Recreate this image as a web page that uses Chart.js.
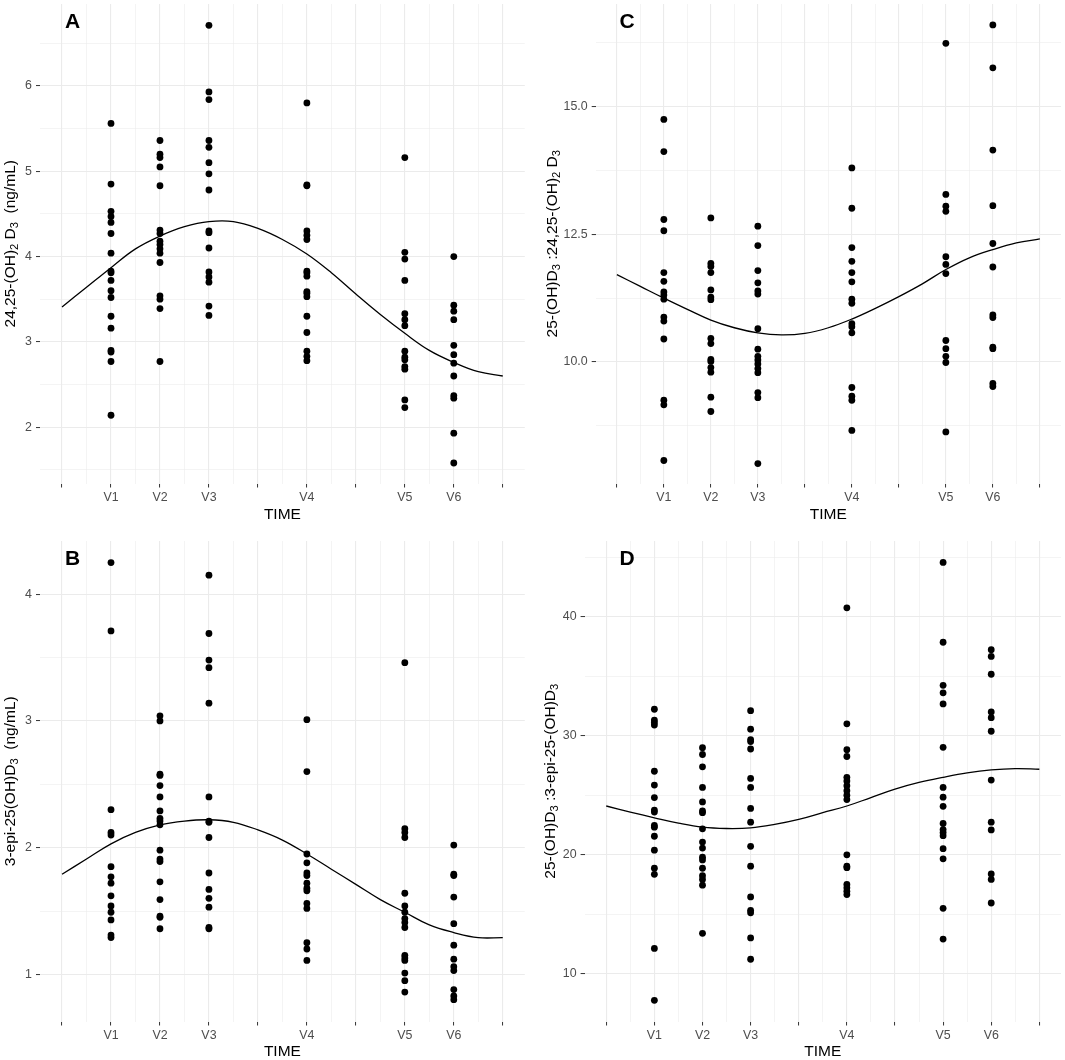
<!DOCTYPE html>
<html>
<head>
<meta charset="utf-8">
<title>Vitamin D metabolites by visit</title>
<script src="https://cdn.jsdelivr.net/npm/chart.js@4.4.1/dist/chart.umd.min.js"></script>
<style>
  html, body { margin: 0; padding: 0; background: #fff; }
  #figure { position: relative; width: 1065px; height: 1060px; }
  .panel { position: absolute; }
</style>
</head>
<body>
<div id="figure">
  <div class="panel" style="left:0;top:0;width:532px;height:530px"><canvas id="chartA"></canvas></div>
  <div class="panel" style="left:533px;top:0;width:532px;height:530px"><canvas id="chartC"></canvas></div>
  <div class="panel" style="left:0;top:537px;width:532px;height:523px"><canvas id="chartB"></canvas></div>
  <div class="panel" style="left:533px;top:537px;width:532px;height:523px"><canvas id="chartD"></canvas></div>
</div>
<script>
// time axis: visits sit on a continuous axis, some breaks have no label
const visitPos = [1, 2, 3, 5, 7, 8];
const timeTicks = [0, 1, 2, 3, 4, 5, 6, 7, 8, 9];
const timeLabels = ['', 'V1', 'V2', 'V3', '', 'V4', '', 'V5', 'V6', ''];
const timeMinor = [0.5, 1.5, 2.5, 3.5, 4.5, 5.5, 6.5, 7.5, 8.5];
const curveX = [0, 0.5, 1, 1.5, 2, 2.5, 3, 3.5, 4, 4.5, 5, 5.5, 6, 6.5, 7, 7.5, 8, 8.5, 9];

// A: 24,25-(OH)2D3 (ng/mL), one list per visit V1..V6
const d2425Values = [
  [5.56, 4.85, 4.53, 4.47, 4.40, 4.27, 4.04, 3.83, 3.81, 3.72, 3.60, 3.52, 3.30, 3.16, 2.90, 2.88, 2.77, 2.14],
  [5.36, 5.20, 5.16, 5.05, 4.83, 4.31, 4.27, 4.18, 4.14, 4.09, 4.04, 3.93, 3.54, 3.50, 3.39, 2.77],
  [6.71, 5.93, 5.84, 5.36, 5.28, 5.10, 4.97, 4.78, 4.30, 4.28, 4.10, 3.82, 3.76, 3.70, 3.42, 3.31],
  [5.80, 4.84, 4.83, 4.30, 4.25, 4.20, 3.83, 3.81, 3.77, 3.59, 3.57, 3.53, 3.30, 3.11, 2.89, 2.83, 2.78],
  [5.16, 4.05, 3.97, 3.72, 3.33, 3.26, 3.19, 2.89, 2.82, 2.79, 2.71, 2.68, 2.32, 2.23],
  [4.00, 3.43, 3.36, 3.26, 2.96, 2.85, 2.75, 2.60, 2.37, 2.34, 1.93, 1.58]
];
const d2425Curve = [3.41, 3.64, 3.87, 4.09, 4.24, 4.35, 4.41, 4.41, 4.33, 4.20, 4.03, 3.81, 3.56, 3.32, 3.10, 2.90, 2.76, 2.65, 2.60];
const d2425Ticks = [2, 3, 4, 5, 6];
const d2425TickLabels = ['2', '3', '4', '5', '6'];
const d2425Minor = [1.5, 2.5, 3.5, 4.5, 5.5, 6.5];

// B: 3-epi-25(OH)D3 (ng/mL)
const epiValues = [
  [4.25, 3.71, 2.30, 2.12, 2.10, 1.85, 1.77, 1.72, 1.62, 1.54, 1.49, 1.43, 1.31, 1.29],
  [3.04, 3.00, 2.58, 2.57, 2.49, 2.40, 2.29, 2.23, 2.21, 2.18, 1.98, 1.91, 1.89, 1.73, 1.59, 1.46, 1.45, 1.36],
  [4.15, 3.69, 3.48, 3.42, 3.14, 2.40, 2.21, 2.20, 2.08, 1.80, 1.67, 1.60, 1.53, 1.37, 1.36],
  [3.01, 2.60, 1.95, 1.88, 1.80, 1.78, 1.72, 1.68, 1.66, 1.56, 1.52, 1.25, 1.20, 1.11],
  [3.46, 2.15, 2.12, 2.08, 1.64, 1.54, 1.49, 1.44, 1.41, 1.37, 1.15, 1.13, 1.11, 1.01, 0.95, 0.86],
  [2.02, 1.79, 1.78, 1.61, 1.40, 1.23, 1.12, 1.06, 1.03, 0.88, 0.83, 0.80]
];
const epiCurve = [1.79, 1.91, 2.03, 2.12, 2.18, 2.21, 2.22, 2.20, 2.14, 2.06, 1.95, 1.83, 1.71, 1.59, 1.49, 1.39, 1.33, 1.29, 1.29];
const epiTicks = [1, 2, 3, 4];
const epiTickLabels = ['1', '2', '3', '4'];
const epiMinor = [1.5, 2.5, 3.5];

// C: 25-(OH)D3 : 24,25-(OH)2D3
const ratio2425Values = [
  [14.75, 14.12, 12.79, 12.57, 11.75, 11.58, 11.37, 11.31, 11.23, 10.88, 10.80, 10.45, 9.25, 9.16, 8.07],
  [12.82, 11.93, 11.87, 11.75, 11.41, 11.27, 11.22, 10.46, 10.36, 10.05, 10.01, 9.89, 9.80, 9.31, 9.03],
  [12.66, 12.28, 11.79, 11.55, 11.39, 11.33, 10.65, 10.25, 10.11, 10.04, 9.96, 9.87, 9.79, 9.40, 9.30, 8.01],
  [13.80, 13.01, 12.24, 11.97, 11.75, 11.57, 11.23, 11.15, 10.75, 10.69, 10.57, 9.50, 9.33, 9.25, 8.66],
  [16.24, 13.28, 13.05, 12.95, 12.06, 11.91, 11.73, 10.42, 10.26, 10.11, 9.99, 8.63],
  [16.60, 15.76, 14.15, 13.06, 12.32, 11.86, 10.92, 10.87, 10.29, 10.26, 9.58, 9.52]
];
const ratio2425Curve = [11.71, 11.48, 11.25, 11.03, 10.82, 10.67, 10.57, 10.53, 10.56, 10.67, 10.84, 11.05, 11.28, 11.53, 11.81, 12.04, 12.20, 12.33, 12.41];
const ratio2425Ticks = [10, 12.5, 15];
const ratio2425TickLabels = ['10.0', '12.5', '15.0'];
const ratio2425Minor = [8.75, 11.25, 13.75, 16.25];

// D: 25-(OH)D3 : 3-epi-25-(OH)D3
const ratioEpiValues = [
  [32.22, 31.31, 31.11, 30.89, 27.01, 25.85, 24.80, 23.75, 23.58, 22.45, 22.31, 21.55, 20.38, 18.86, 18.35, 12.12, 7.76],
  [28.99, 28.42, 27.38, 25.65, 24.43, 23.67, 23.53, 22.17, 21.06, 20.55, 19.79, 19.56, 18.86, 18.23, 17.92, 17.44, 13.39],
  [32.10, 30.55, 29.67, 29.50, 28.88, 26.41, 25.65, 23.89, 22.73, 20.70, 19.03, 16.45, 15.32, 15.12, 13.00, 11.21],
  [40.74, 31.00, 28.82, 28.25, 26.50, 26.19, 25.79, 25.37, 25.00, 24.63, 19.99, 19.03, 18.91, 17.50, 17.21, 16.93, 16.65],
  [44.56, 37.85, 34.23, 33.60, 32.67, 29.02, 25.65, 24.83, 24.06, 22.62, 22.11, 21.86, 21.60, 20.50, 19.65, 15.49, 12.91],
  [37.23, 36.66, 35.16, 31.99, 31.51, 30.37, 26.27, 22.73, 22.08, 18.38, 17.92, 15.94]
];
const ratioEpiCurve = [24.09, 23.58, 23.10, 22.65, 22.31, 22.20, 22.25, 22.54, 22.96, 23.53, 24.09, 24.80, 25.51, 26.07, 26.50, 26.87, 27.12, 27.23, 27.18];
const ratioEpiTicks = [10, 20, 30, 40];
const ratioEpiTickLabels = ['10', '20', '30', '40'];
const ratioEpiMinor = [15, 25, 35, 45];

const FONT = "'Liberation Sans', Arial, Helvetica, sans-serif";
const GRID = '#EBEBEB';
const TICK = '#333333';
const TEXT = '#4D4D4D';
const NONE = 'rgba(0,0,0,0)';

function fixedTicks(major, minor) {
    return scale => {
        scale.ticks = major.concat(minor).sort((a, b) => a - b).map(v => ({ value: v }));
    };
}

// rotated y title with real subscripts, plus the bold panel letter
function panelTextPlugin(p) {
    return {
        id: 'panelText',
        afterDraw(chart) {
            const { ctx, chartArea } = chart;
            const size = 15.5;
            const main = size + 'px ' + FONT;
            const sub = (size * 0.72) + 'px ' + FONT;

            ctx.save();
            ctx.fillStyle = '#000';
            ctx.textAlign = 'left';
            ctx.textBaseline = 'alphabetic';
            let total = 0;
            p.title.forEach(part => {
                ctx.font = part.sub ? sub : main;
                total += ctx.measureText(part.t).width;
            });
            ctx.translate(p.titleX, (chartArea.top + chartArea.bottom) / 2);
            ctx.rotate(-Math.PI / 2);
            let cx = -total / 2;
            p.title.forEach(part => {
                ctx.font = part.sub ? sub : main;
                ctx.fillText(part.t, cx, part.sub ? size * 0.22 : 0);
                cx += ctx.measureText(part.t).width;
            });
            ctx.restore();

            ctx.save();
            ctx.fillStyle = '#000';
            ctx.font = 'bold 21px ' + FONT;
            ctx.textAlign = 'center';
            ctx.textBaseline = 'middle';
            ctx.fillText(p.letter, p.letterX, p.letterY);
            ctx.restore();
        }
    };
}

function makePanel(id, p) {
    const points = [];
    p.values.forEach((vals, i) => {
        vals.forEach(v => points.push({ x: visitPos[i], y: v }));
    });
    const curve = curveX.map((x, i) => ({ x: x, y: p.curve[i] }));

    const xLabel = new Map(timeTicks.map((v, i) => [v, timeLabels[i]]));
    const yLabel = new Map(p.ticks.map((v, i) => [v, p.tickLabels[i]]));
    const xMajor = c => c.tick && xLabel.has(c.tick.value);
    const yMajor = c => c.tick && yLabel.has(c.tick.value);

    const tickFont = { family: FONT, size: 12.4 };

    return new Chart(document.getElementById(id), {
        type: 'scatter',
        data: {
            datasets: [{
                data: points,
                pointRadius: 3.4,
                pointBackgroundColor: '#000',
                pointBorderWidth: 0
            }, {
                type: 'line',
                data: curve,
                borderColor: '#000',
                borderWidth: 1.3,
                pointRadius: 0,
                tension: 0.4,
                fill: false
            }]
        },
        options: {
            responsive: true,
            maintainAspectRatio: false,
            animation: false,
            events: [],
            layout: {
                padding: { top: p.top, right: p.right, left: 0, bottom: 0 }
            },
            plugins: {
                legend: { display: false },
                tooltip: { enabled: false }
            },
            scales: {
                x: {
                    type: 'linear',
                    min: -0.45,
                    max: 9.45,
                    afterBuildTicks: fixedTicks(timeTicks, timeMinor),
                    afterFit: s => {
                        s.height = p.xHeight;
                        s.paddingLeft = 0;
                        s.paddingRight = 0;
                    },
                    border: { display: false },
                    grid: {
                        color: GRID,
                        lineWidth: c => xMajor(c) ? 1.1 : 0.55,
                        tickLength: 4,
                        tickWidth: 1,
                        tickColor: c => xMajor(c) ? TICK : NONE
                    },
                    ticks: {
                        autoSkip: false,
                        maxRotation: 0,
                        padding: 2.5,
                        color: TEXT,
                        font: tickFont,
                        callback: v => xLabel.get(v) || ''
                    },
                    title: {
                        display: true,
                        text: 'TIME',
                        color: '#000',
                        font: { family: FONT, size: 15.5, lineHeight: 1 },
                        padding: { top: 0, bottom: p.timeGap }
                    }
                },
                y: {
                    type: 'linear',
                    min: p.yMin,
                    max: p.yMax,
                    afterBuildTicks: fixedTicks(p.ticks, p.minor),
                    afterFit: s => {
                        s.width = p.yWidth;
                        s.paddingTop = 0;
                        s.paddingBottom = 0;
                    },
                    border: { display: false },
                    grid: {
                        color: GRID,
                        lineWidth: c => yMajor(c) ? 1.1 : 0.55,
                        tickLength: 4,
                        tickWidth: 1,
                        tickColor: c => yMajor(c) ? TICK : NONE
                    },
                    ticks: {
                        autoSkip: false,
                        padding: 4,
                        color: TEXT,
                        font: tickFont,
                        callback: v => yLabel.get(v) || ''
                    }
                }
            }
        },
        plugins: [panelTextPlugin(p)]
    });
}

makePanel('chartA', {
    values: d2425Values, curve: d2425Curve,
    ticks: d2425Ticks, tickLabels: d2425TickLabels, minor: d2425Minor,
    yMin: 1.34, yMax: 6.96,
    top: 2, right: 7.2, yWidth: 40, xHeight: 46.5, timeGap: 7.2,
    title: [{ t: '24,25-(OH)' }, { t: '2', sub: true }, { t: ' D' }, { t: '3', sub: true }, { t: '  (ng/mL)' }],
    titleX: 15, letter: 'A', letterX: 72.5, letterY: 22.5
});

makePanel('chartC', {
    values: ratio2425Values, curve: ratio2425Curve,
    ticks: ratio2425Ticks, tickLabels: ratio2425TickLabels, minor: ratio2425Minor,
    yMin: 7.62, yMax: 17.01,
    top: 2, right: 3, yWidth: 62.7, xHeight: 46.5, timeGap: 7.2,
    title: [{ t: '25-(OH)D' }, { t: '3', sub: true }, { t: ' :24,25-(OH)' }, { t: '2', sub: true }, { t: ' D' }, { t: '3', sub: true }],
    titleX: 24, letter: 'C', letterX: 94, letterY: 22.7
});

makePanel('chartB', {
    values: epiValues, curve: epiCurve,
    ticks: epiTicks, tickLabels: epiTickLabels, minor: epiMinor,
    yMin: 0.628, yMax: 4.42,
    top: 2, right: 7.2, yWidth: 40, xHeight: 38.5, timeGap: 0.7,
    title: [{ t: '3-epi-25(OH)D' }, { t: '3', sub: true }, { t: '  (ng/mL)' }],
    titleX: 15, letter: 'B', letterX: 72.5, letterY: 22.7
});

makePanel('chartD', {
    values: ratioEpiValues, curve: ratioEpiCurve,
    ticks: ratioEpiTicks, tickLabels: ratioEpiTickLabels, minor: ratioEpiMinor,
    yMin: 5.98, yMax: 46.36,
    top: 2, right: 2.3, yWidth: 51.6, xHeight: 38.5, timeGap: 0.7,
    title: [{ t: '25-(OH)D' }, { t: '3', sub: true }, { t: ' :3-epi-25-(OH)D' }, { t: '3', sub: true }],
    titleX: 22, letter: 'D', letterX: 94, letterY: 22.7
});
</script>
</body>
</html>
